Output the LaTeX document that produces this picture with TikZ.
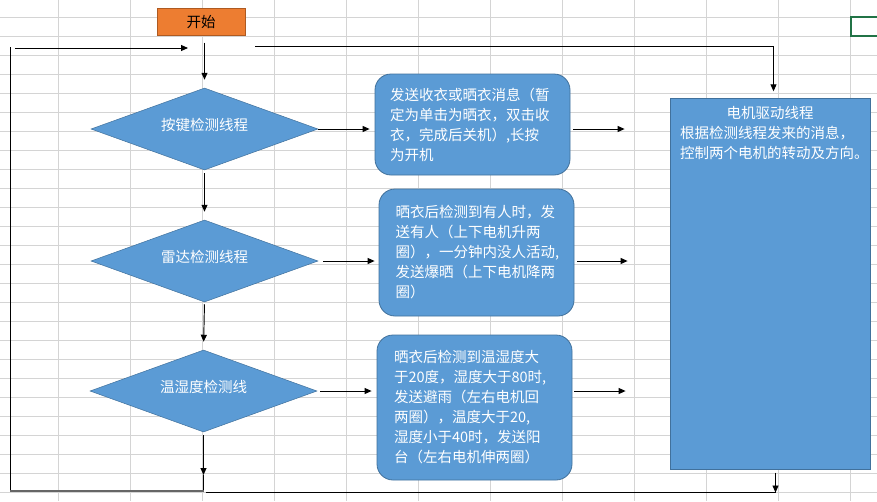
\documentclass[tikz,border=0pt]{standalone}
\usepackage{fontspec}
\setmainfont{Noto Sans CJK SC}
\usetikzlibrary{shapes.geometric,arrows.meta,calc}
\definecolor{boxblue}{HTML}{5B9BD5}
\definecolor{boxedge}{HTML}{41719C}
\definecolor{startor}{HTML}{ED7D31}
\definecolor{startedge}{HTML}{AE5A21}
\definecolor{gridc}{HTML}{D4D4D4}
\definecolor{selgreen}{HTML}{217346}
\begin{document}
\begin{tikzpicture}[x=1pt,y=-1pt,
  every node/.style={font=\fontsize{14.5}{20}\selectfont},
  gridline/.style={draw=gridc,line width=0.9pt},
  startbox/.style={rectangle,fill=startor,draw=startedge,line width=0.6pt,
    minimum width=88pt,minimum height=27pt,inner sep=0pt,text=black},
  decision/.style={diamond,aspect=2.75,fill=boxblue,draw=boxedge,line width=0.5pt,
    minimum width=227pt,minimum height=82pt,inner sep=0pt,text=white},
  msgbox/.style={rectangle,rounded corners=16pt,fill=boxblue,draw=boxedge,line width=0.8pt,
    minimum width=195pt,inner sep=0pt,align=left,text=white},
  motorbox/.style={rectangle,fill=boxblue,draw=boxedge,line width=0.8pt,
    minimum width=200pt,minimum height=371pt,inner sep=0pt,text=white},
  conn/.style={draw=black,line width=0.95pt},
  arr/.style={conn,-{Triangle[length=7pt,width=6pt]}}
]
\useasboundingbox (0,0) rectangle (877,501);
\clip (0,0) rectangle (877,501);
\fill[white] (0,0) rectangle (877,501);
% spreadsheet grid
\foreach \k in {0,...,11} \draw[gridline] (58.7+72*\k,0) -- (58.7+72*\k,501);
\foreach \k in {0,...,25} \draw[gridline] (0,17.3+19*\k) -- (877,17.3+19*\k);
% selected cell
\draw[selgreen,line width=2pt] (850.7,17.3) rectangle (895,36.3);

% nodes
\node[startbox] (start) at (201,21.8) {开始};
\node[decision] (d1) at (204.5,129) {\raisebox{10pt}{按键检测线程}};
\node[decision] (d2) at (204.5,261) {\raisebox{9pt}{雷达检测线程}};
\node[decision] (d3) at (203.5,391) {\raisebox{10pt}{温湿度检测线}};

\node[msgbox,minimum height=101pt,text width=165pt] (b1) at (472.5,124.5)
  {发送收衣或晒衣消息（暂\\定为单击为晒衣，双击收\\衣，完成后关机）,长按\\为开机};
\node[msgbox,minimum height=127pt,text width=162pt] (b2) at (476.5,252.5)
  {晒衣后检测到有人时，发\\送有人（上下电机升两\\圈），一分钟内没人活动,\\发送爆晒（上下电机降两\\圈）};
\node[msgbox,minimum height=145pt,text width=161pt] (b3) at (474.5,407.5)
  {晒衣后检测到温湿度大\\于20度，湿度大于80时,\\发送避雨（左右电机回\\两圈），温度大于20,\\湿度小于40时，发送阳\\台（左右电机伸两圈）};

\node[motorbox] (motor) at (770,283.7)
  {\parbox[c][371pt][t]{200pt}{\makebox[200pt]{\rule{0pt}{20pt}电机驱动线程}\par
   \noindent\hspace*{10pt}根据检测线程发来的消息，\par
   \noindent\hspace*{10pt}控制两个电机的转动及方向。}};

% coordinates for free ends
\coordinate (loopTL) at (10,47);
\coordinate (loopBL) at (10,491);
\coordinate (topIn) at (15,48);
\coordinate (topTip) at (188,48);
\coordinate (topR) at (255,46.3);
\coordinate (botArr) at (203,475);
\coordinate (botR) at (775.5,492.5);

% vertical flow
\draw[arr,shorten <=7pt,shorten >=8pt] (start.south -| d1.north) -- (d1.north);
\draw[arr,shorten <=3pt,shorten >=8pt] (d1.south) -- (d2.north);
\draw[arr,shorten <=2pt,shorten >=8pt] (d2.south) -- (d3.north);

% diamonds to message boxes
\draw[arr,shorten >=5pt] (d1.east) -- (d1.east -| b1.west);
\draw[arr,shorten <=5pt,shorten >=4pt] (d2.east) -- (d2.east -| b2.west);
\draw[arr,shorten <=3pt,shorten >=5pt] (d3.east) -- (d3.east -| b3.west);

% message boxes towards motor thread
\draw[arr,shorten <=3pt,shorten >=45pt] (d1.east -| b1.east) -- (d1.east -| motor.west);
\draw[arr,shorten <=3pt,shorten >=42pt] (d2.east -| b2.east) -- (d2.east -| motor.west);
\draw[arr,shorten <=2pt,shorten >=44pt] (d3.east -| b3.east) -- (d3.east -| motor.west);

% loop lines
\draw[conn] (loopTL) -- (loopBL);
\draw[arr] (topIn) -- (topTip);
\draw[arr,shorten >=6.5pt] (topR) -| ($(motor.north)+(3.5,0)$);
\draw[arr,shorten <=3pt] (d3.south) -- (d3.south |- botArr);
\draw[conn] (d3.south |- botArr) -- (d3.south |- loopBL);
\draw[line width=1.6pt,draw=black!60] (loopBL) -- (d3.south |- loopBL);
\draw[conn] ($(d3.south |- botR)+(2,0)$) -- (botR);
\draw[arr,shorten <=3pt] (motor.south -| botR) -- (botR);
\end{tikzpicture}
\end{document}
